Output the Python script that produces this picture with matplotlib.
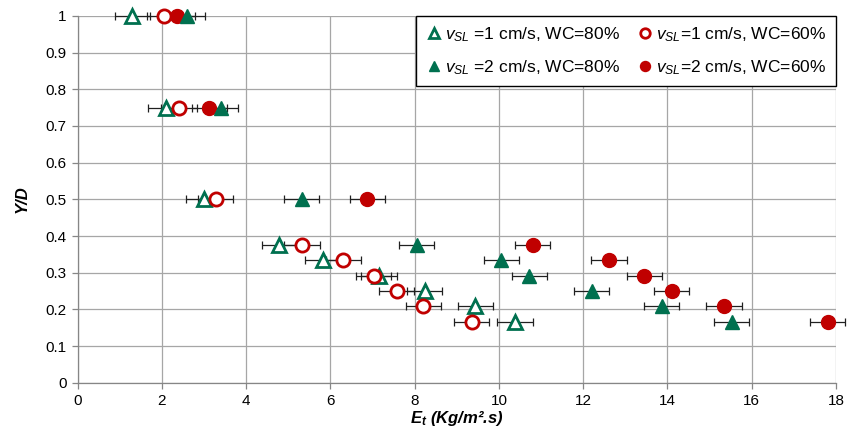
import matplotlib
matplotlib.use("Agg")
import matplotlib.pyplot as plt
from matplotlib.lines import Line2D

plt.rcParams["font.family"] = ["Liberation Sans", "DejaVu Sans"]
plt.rcParams["mathtext.fontset"] = "custom"
plt.rcParams["mathtext.it"] = "Liberation Sans:italic"
plt.rcParams["mathtext.rm"] = "Liberation Sans"
plt.rcParams["mathtext.bf"] = "Liberation Sans:bold"
plt.rcParams["mathtext.bfit"] = "Liberation Sans:bold:italic"

# Dimensionless height Y/D of each measurement station
y_d = [1.0, 0.75, 0.5, 0.375, 0.3333, 0.2917, 0.25, 0.2083, 0.1667]

# Erosion rate E_t (Kg/m2.s) for each flow condition
et_v1_wc80 = [1.30, 2.09, 2.99, 4.79, 5.82, 7.15, 8.24, 9.44, 10.38]
et_v1_wc60 = [2.06, 2.41, 3.28, 5.33, 6.31, 7.03, 7.57, 8.21, 9.35]
et_v2_wc80 = [2.60, 3.40, 5.32, 8.05, 10.06, 10.72, 12.20, 13.86, 15.52]
et_v2_wc60 = [2.37, 3.13, 6.88, 10.80, 12.61, 13.45, 14.10, 15.34, 17.80]
et_err = 0.42

labels = [
    r"$v_{SL}$ =1 cm/s, WC=80%",
    r"$v_{SL}$=1 cm/s, WC=60%",
    r"$v_{SL}$ =2 cm/s, WC=80%",
    r"$v_{SL}$=2 cm/s, WC=60%",
]

GREEN = "#00704F"
RED = "#C00000"

fig = plt.figure(figsize=(8.49, 4.38), dpi=100)
ax = fig.add_axes([0.0913, 0.1263, 0.8934, 0.8372])

# error bars first so the markers sit on top of them
for xs in (et_v1_wc80, et_v1_wc60, et_v2_wc60, et_v2_wc80):
    eb = ax.errorbar(xs, y_d, xerr=et_err, fmt="none", ecolor="#202020",
                     elinewidth=0.9, capsize=3, capthick=0.9, zorder=3)
    for artist in eb.lines[1] + eb.lines[2]:
        artist.set_clip_on(False)

styles = {
    0: dict(x=et_v1_wc80, marker="^", mfc="white", mec=GREEN, ms=10, mew=2.0),
    1: dict(x=et_v1_wc60, marker="o", mfc="white", mec=RED, ms=9.5, mew=2.0),
    3: dict(x=et_v2_wc60, marker="o", mfc=RED, mec=RED, ms=10, mew=1),
    2: dict(x=et_v2_wc80, marker="^", mfc=GREEN, mec=GREEN, ms=9.5, mew=1),
}
handles = {}
for i, st in styles.items():
    ax.plot(st["x"], y_d, linestyle="none", marker=st["marker"],
            markerfacecolor=st["mfc"], markeredgecolor=st["mec"],
            markersize=st["ms"], markeredgewidth=st["mew"], zorder=4,
            clip_on=False)
    handles[i] = Line2D([], [], linestyle="none", marker=st["marker"],
                        markerfacecolor=st["mfc"], markeredgecolor=st["mec"],
                        markersize=st["ms"] * 0.72, markeredgewidth=st["mew"])

ax.set_xlim(0, 18)
ax.set_ylim(0, 1)
ax.set_xticks(range(0, 19, 2))
ax.set_yticks([i / 10 for i in range(11)])
ax.set_yticklabels(["0", "0.1", "0.2", "0.3", "0.4", "0.5", "0.6", "0.7",
                    "0.8", "0.9", "1"])
ax.grid(True, color="#A6A6A6", linewidth=0.9, zorder=0)
ax.set_axisbelow(True)
for side in ("top", "right"):
    ax.spines[side].set_visible(False)
for side in ("left", "bottom"):
    ax.spines[side].set_color("#868686")
    ax.spines[side].set_linewidth(0.9)
ax.tick_params(axis="both", colors="#868686", labelcolor="black",
               labelsize=11, length=4, width=0.9, direction="out", pad=4)

ax.set_xlabel(r"$\mathbfit{E}_{\mathbfit{t}}$ (Kg/m².s)", fontsize=12,
              fontweight="bold", fontstyle="italic", labelpad=1)
ax.set_ylabel("Y/D", fontsize=12, fontweight="bold", fontstyle="italic",
              labelpad=11)

leg = ax.legend([handles[0], handles[2], handles[1], handles[3]],
                [labels[0], labels[2], labels[1], labels[3]],
                ncol=2, loc="upper right", borderaxespad=0.0, fontsize=12.5,
                frameon=True, fancybox=False, edgecolor="black",
                framealpha=1, handletextpad=0.15, columnspacing=0.9,
                handlelength=1.0, borderpad=0.55, labelspacing=0.8)
leg.get_frame().set_linewidth(1.0)
leg.set_zorder(5)

fig.savefig("out.png", dpi=100)
